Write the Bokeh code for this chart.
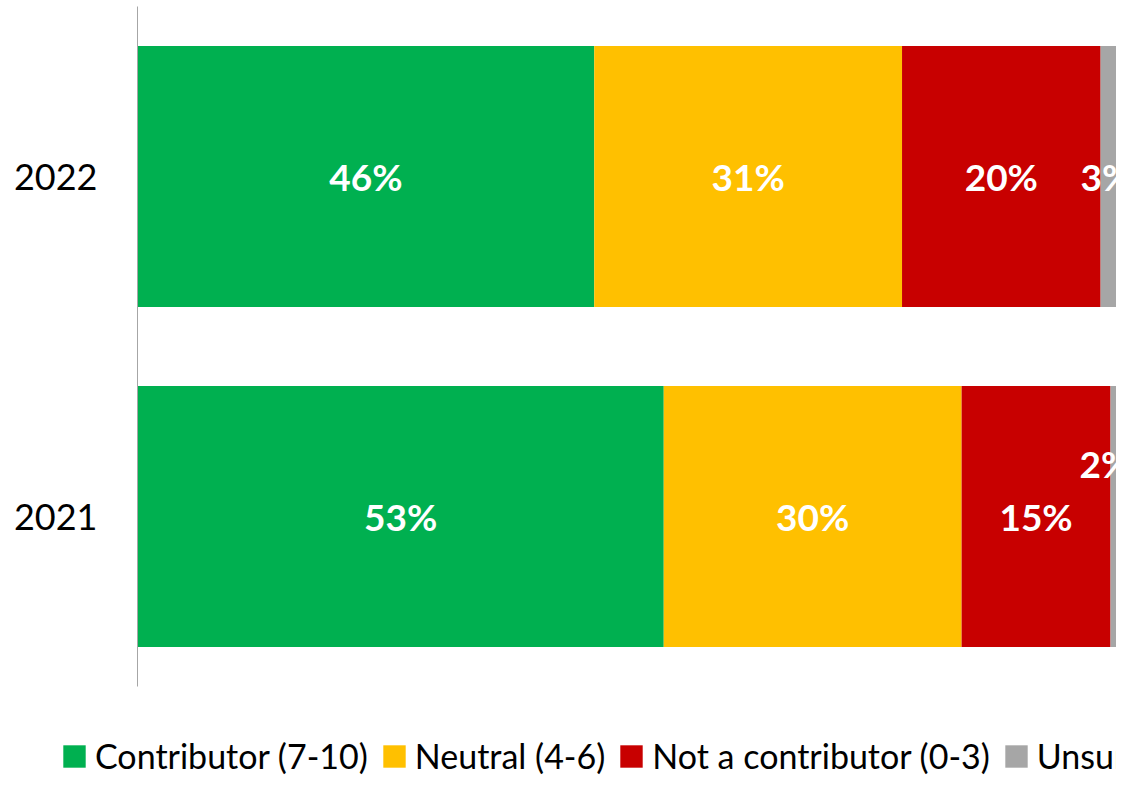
import numpy as np
from bokeh.plotting import figure
from bokeh.models import ColumnDataSource, FactorRange, Range1d, Legend, LegendItem
from bokeh.transform import dodge
from bokeh.core.properties import value
from bokeh.embed import file_html
from bokeh.resources import INLINE

years = ["2021", "2022"]
series = ["Contributor (7-10)", "Neutral (4-6)", "Not a contributor (0-3)", "Unsure"]
contributor = [53, 46]
neutral = [30, 31]
not_contrib = [15, 20]
unsure = [2, 3]
colors = ["#00B050", "#FFC000", "#C80000", "#A6A6A6"]

FONT = "Lato"
keys = ["c", "n", "x", "u"]
src = ColumnDataSource(dict(year=years, c=contributor, n=neutral, x=not_contrib, u=unsure))

W = 1116
p = figure(width=W, height=700, output_backend="svg", toolbar_location=None,
           y_range=FactorRange(factors=years, range_padding=0),
           x_range=Range1d(0, 98.6),
           min_border_left=137, min_border_right=0, min_border_top=6,
           min_border_bottom=14)
p.outline_line_color = None
p.grid.visible = False

rs = p.hbar_stack(keys, y="year", height=0.768, color=colors, source=src,
                  line_color=None)

# data labels (segment centres from the stacked values)
vals = np.array([contributor, neutral, not_contrib, unsure], dtype=float)
cum = np.cumsum(vals, axis=0)
centers = cum - vals / 2
groups = {"main": ([], [], []), "edge": ([], [], []), "raised": ([], [], [])}
for si in range(len(series)):
    for yi, yr in enumerate(years):
        v = int(vals[si, yi])
        g = "main" if si < 3 else ("raised" if yr == "2021" else "edge")
        groups[g][0].append(centers[si, yi]); groups[g][1].append(yr); groups[g][2].append(f"{v}%")

def labels(g, y, x_offset):
    xs, ys, ts = groups[g]
    s = ColumnDataSource(dict(x=xs, y=ys, t=ts))
    p.text(x="x", y=y, text="t", source=s, text_color="white",
           text_font=value(FONT), text_font_style="bold", text_font_size="37px",
           text_align="center", text_baseline="middle", x_offset=x_offset)

labels("main", "y", 0)
labels("edge", "y", -9)
labels("raised", dodge("y", 0.157, range=p.y_range), -15)

p.xaxis.visible = False
yax = p.yaxis[0]
yax.axis_line_color = "#A6A6A6"
yax.axis_line_width = 1
yax.major_tick_line_color = None
yax.minor_tick_line_color = None
yax.major_label_text_font = FONT
yax.major_label_text_font_size = "36px"
yax.major_label_text_color = "black"
yax.major_label_standoff = 34

# legend strip below the chart (its own root so its frame starts at the left edge)
lg = figure(width=W, height=76, output_backend="svg", toolbar_location=None,
            x_range=Range1d(0, 1), y_range=Range1d(0, 1),
            x_axis_location=None, y_axis_location=None,
            min_border_left=0, min_border_right=0, min_border_top=0, min_border_bottom=0)
lg.outline_line_color = None
lg.grid.visible = False
lrs = [lg.hbar(y=[0.5], left=[0], right=[0], height=0.5, color=c, line_color=None)
       for c in colors]
legend = Legend(items=[LegendItem(label=s, renderers=[r]) for s, r in zip(series, lrs)],
                orientation="horizontal", location=(60, 0),
                label_text_font=FONT, label_text_font_size="34px",
                label_text_line_height=1.0, label_text_color="black",
                glyph_width=28, glyph_height=28, label_standoff=7, spacing=12,
                border_line_color=None, background_fill_alpha=0,
                padding=0, margin=0)
lg.add_layout(legend, "center")

open("out.html", "w").write(file_html([p, lg], INLINE))
